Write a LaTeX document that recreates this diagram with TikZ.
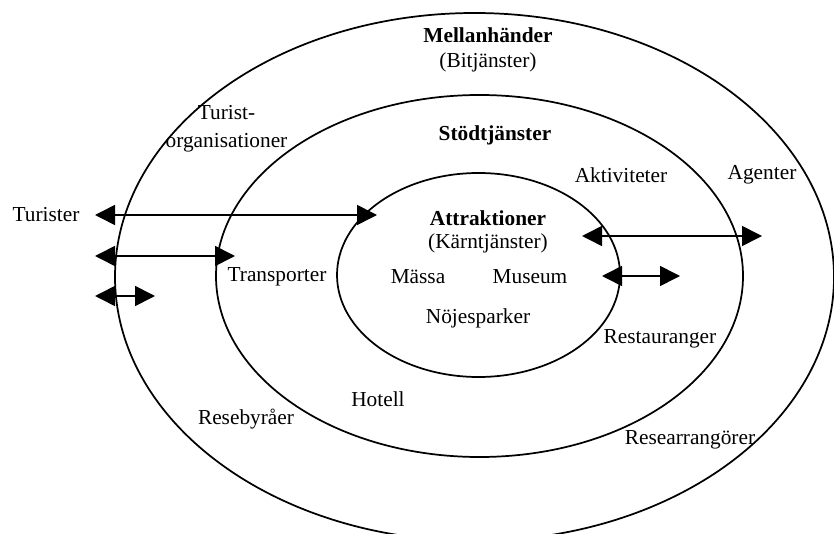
\documentclass[tikz,border=0pt]{standalone}
\usepackage{fontspec}
\setmainfont{Liberation Serif}
\usetikzlibrary{arrows.meta}

\begin{document}
\begin{tikzpicture}[x=0.75pt,y=-0.75pt,
	ring/.style={line width=1.3pt},
	link/.style={line width=1.2pt,{Triangle[length=15pt,width=15pt]}-{Triangle[length=15pt,width=15pt]}},
	txt/.style={font=\fontsize{16}{21}\selectfont,inner sep=0pt,align=center},
	head/.style={font=\fontsize{16}{21}\selectfont\bfseries,inner sep=0pt}]
	%%%%% START %%%%%
	\useasboundingbox (0,0) rectangle (834,534);
	\clip (0,0) rectangle (834,534);
	
	% rings
	\draw[ring] (474.5,277) ellipse [x radius=359.5, y radius=264];
	\draw[ring] (479.5,276) ellipse [x radius=263.5, y radius=181];
	\draw[ring] (478.5,275) ellipse [x radius=141.5, y radius=102];
	
	% outer ring
	\node[head] (mellan) at (488,35) {Mellanhänder};
	\node[txt] (bitj) at (488,62) {(Bitjänster)};
	\node[txt] (turorg) at (226.5,129) {Turist-\\organisationer};
	\node[txt] (agent) at (762,175) {Agenter};
	\node[txt] (reseb) at (246,419) {Resebyråer};
	\node[txt] (researr) at (690,440) {Researrangörer};
	
	% middle ring
	\node[head] (stod) at (495,135) {Stödtjänster};
	\node[txt] (aktiv) at (621,175) {Aktiviteter};
	\node[txt] (transp) at (277,277) {Transporter};
	\node[txt] (rest) at (660,339) {Restauranger};
	\node[txt] (hotell) at (378,399) {Hotell};
	
	% core
	\node[head] (attr) at (488,218) {Attraktioner};
	\node[txt] (karn) at (488,243) {(Kärntjänster)};
	\node[txt] (massa) at (418,277) {Mässa};
	\node[txt] (museum) at (530,277) {Museum};
	\node[txt] (nojes) at (478,318) {Nöjesparker};
	
	\node[txt] (turist) at (46,215) {Turister};
	
	% arrows
	\coordinate (a1) at (95,215);  \coordinate (b1) at (377,215);
	\coordinate (a2) at (95,256);  \coordinate (b2) at (235,256);
	\coordinate (a3) at (95,296);  \coordinate (b3) at (155,296);
	\coordinate (a4) at (582,236); \coordinate (b4) at (762,236);
	\coordinate (a5) at (602,276); \coordinate (b5) at (680,276);
	\foreach \i in {1,...,5}
		\draw[link] (a\i) -- (b\i);
	
	%%%%% END %%%%%
\end{tikzpicture}
\end{document}
